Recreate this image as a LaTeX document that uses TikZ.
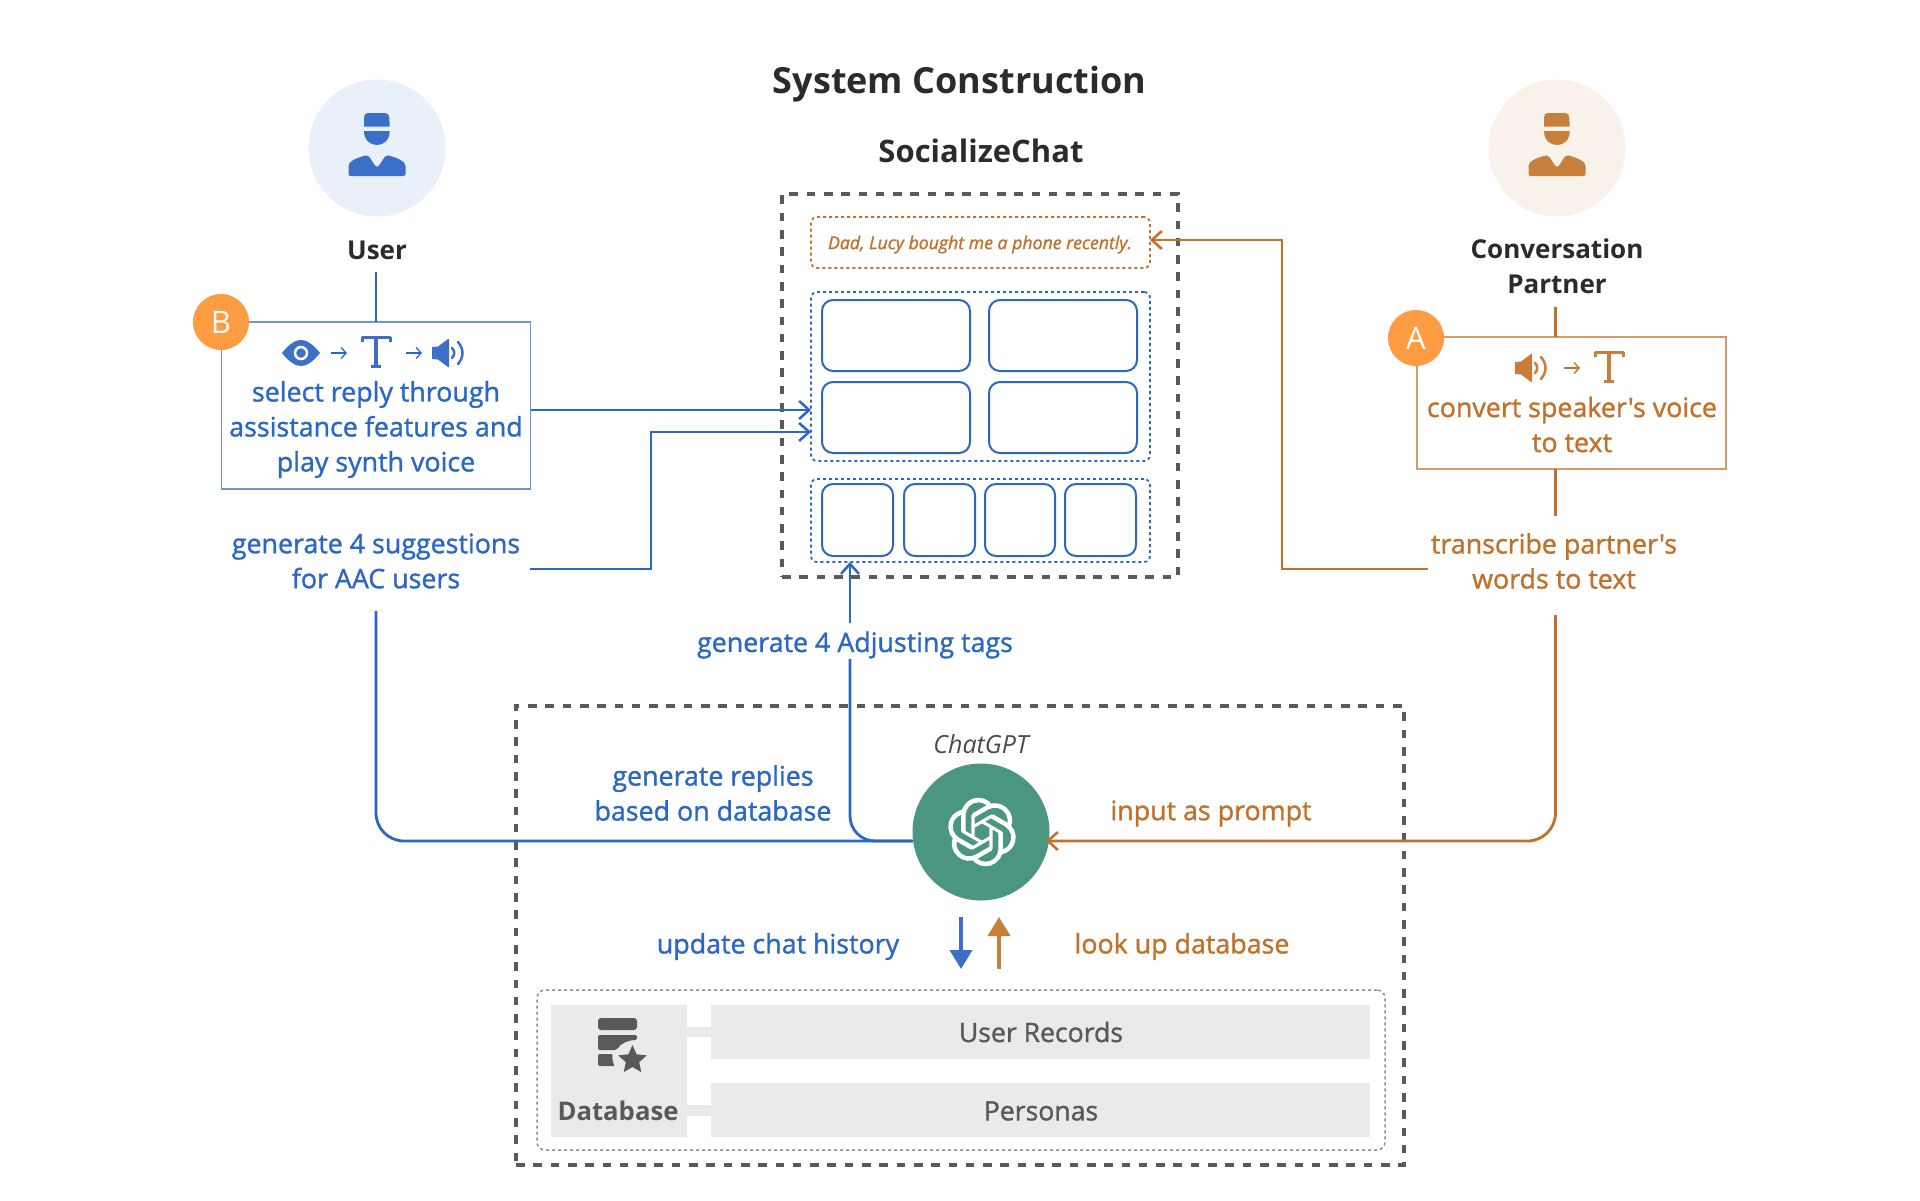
\documentclass[tikz,border=0pt]{standalone}
\usepackage{fontspec}
\setmainfont{Open Sans}[Ligatures=TeXOff]
\newfontfamily\medf{Open Sans}[Ligatures=TeXOff,FakeBold=1.2]
\usetikzlibrary{arrows.meta,svg.path}
\definecolor{bluel}{HTML}{2A67C6}
\definecolor{bluei}{HTML}{3B70C8}
\definecolor{blueb}{HTML}{6C93D8}
\definecolor{bluebg}{HTML}{EAF0F9}
\definecolor{orl}{HTML}{C2702A}
\definecolor{ori}{HTML}{C67F3C}
\definecolor{orb}{HTML}{D59A66}
\definecolor{orbg}{HTML}{F8F2EB}
\definecolor{badge}{HTML}{FD9C43}
\definecolor{gptgreen}{HTML}{4B9681}
\definecolor{dashgray}{HTML}{5A5A5A}
\definecolor{dbgray}{HTML}{EAEAEA}
\definecolor{dbtext}{HTML}{595959}
\definecolor{titlec}{HTML}{2B2B2B}
\tikzset{
  x=1pt,y=-1pt,
  every node/.style={inner sep=0pt,outer sep=0pt,align=center},
  lab/.style={font=\fontsize{26.8}{35}\medf,anchor=center},
  bluetxt/.style={lab,text=bluel},
  ortxt/.style={lab,text=orl},
  head/.style={lab,font=\fontsize{26}{35}\selectfont\bfseries,text=titlec},
  bluewire/.style={draw=bluel,line width=2.8pt},
  orwire/.style={draw=orl,line width=2.8pt},
  barb/.style={-{Straight Barb[length=10pt,width=18pt,line width=2.5pt]}},
  outerdash/.style={draw=dashgray,line width=3.5pt,dash pattern=on 8.6pt off 8.7pt},
  dotbox/.style={rounded corners=6pt,line width=1.8pt,dash pattern=on 3pt off 3pt},
  card/.style={draw=bluel,line width=2pt,rounded corners=11pt},
  bluebox/.style={draw=blueb,line width=1.5pt},
  orbox/.style={draw=orb,line width=1.5pt},
  badgec/.style={circle,fill=badge,minimum size=56pt,text=white,font=\fontsize{31}{31}\selectfont},
  small/.style={line width=1.3pt,-{Straight Barb[length=5pt,width=11pt,line width=1.3pt]}},
  dbbar/.style={fill=dbgray,draw=none},
  dbtxtst/.style={text=dbtext,font=\fontsize{26.6}{27}\medf},
}
\newcommand{\personicon}[3]{%
 \begin{scope}[shift={(#1,#2)}]
  \fill[#3] (-9,-35) .. controls (-12,-35) and (-13,-33) .. (-13,-30) -- (-13,-21.5) -- (12.7,-21.5) -- (12.3,-30) .. controls (12.3,-33) and (11,-35) .. (8,-35) -- cycle;
  \fill[#3] (-13,-17) -- (12.7,-17) .. controls (12.7,-8) and (7,-3) .. (0,-3) .. controls (-7,-3) and (-13,-8) .. (-13,-17) -- cycle;
  \fill[#3,rounded corners=2pt] (-28.5,28) -- (-28.5,20) .. controls (-28.5,14) and (-22,10) .. (-9,7) -- (-3,16) .. controls (-1,19) and (1,19) .. (3,16) -- (9,7) .. controls (22,10) and (28.5,14) .. (28.5,20) -- (28.5,28) -- cycle;
 \end{scope}}
\newcommand{\speakericon}[3]{%
 \begin{scope}[shift={(#1,#2)}]
  \fill[#3] (0,-6) -- (6,-6.5) -- (16,-14) -- (17,-14) -- (17,14) -- (16,14) -- (6,6.5) -- (0,6) -- cycle;
  \draw[#3,line width=2.5pt,line cap=round] (20,-5) .. controls (23,-2) and (23,2) .. (20,5);
  \draw[#3,line width=2.5pt,line cap=round] (26,-11) .. controls (32,-4) and (32,4) .. (26,11);
 \end{scope}}
\newcommand{\ticon}[3]{%
 \begin{scope}[shift={(#1,#2)}]
  \draw[#3,line width=3pt,line join=round] (-14,-10) -- (-14,-15) -- (14,-15) -- (14,-10);
  \draw[#3,line width=3.6pt] (0,-15) -- (0,14);
  \draw[#3,line width=3pt] (-5,14.5) -- (5,14.5);
 \end{scope}}
\begin{document}
\begin{tikzpicture}
\useasboundingbox (0,0) rectangle (1920,1200);
\fill[white] (0,0) rectangle (1920,1200);
% titles
\node[font=\fontsize{36}{36}\selectfont\bfseries,text=titlec] (title) at (959.5,84) {System Construction};
\node[font=\fontsize{31}{31}\selectfont\bfseries,text=titlec] (sctitle) at (981,151) {SocializeChat};
% dashed frames
\node[outerdash,minimum width=396pt,minimum height=383pt] (scframe) at (980,385.5) {};
\node[outerdash,minimum width=888pt,minimum height=459pt] (gptframe) at (960,935.5) {};
% chat ui
\node[draw=orl,dotbox,minimum width=339pt,minimum height=51pt] (said) at (980.5,242.5) {};
\node[text=orl,font=\fontsize{17.7}{18}\medf\itshape] (saidtxt) at (980,244.5) {Dad, Lucy bought me a phone recently.};
\node[draw=bluel,dotbox,minimum width=339pt,minimum height=169pt] (replies) at (980.5,376.5) {};
\node[draw=bluel,dotbox,minimum width=339pt,minimum height=83pt] (tags) at (980.5,520.5) {};
\node[card,minimum width=148pt,minimum height=71pt] (r1) at (896,335.5) {};
\node[card,minimum width=148pt,minimum height=71pt] (r2) at (1063,335.5) {};
\node[card,minimum width=148pt,minimum height=71pt] (r3) at (896,417.5) {};
\node[card,minimum width=148pt,minimum height=71pt] (r4) at (1063,417.5) {};
\node[card,minimum width=71pt,minimum height=72pt] (t1) at (857.5,520) {};
\node[card,minimum width=71pt,minimum height=72pt] (t2) at (939.5,520) {};
\node[card,minimum width=70pt,minimum height=72pt] (t3) at (1020,520) {};
\node[card,minimum width=71pt,minimum height=72pt] (t4) at (1100.5,520) {};
% user
\node[circle,fill=bluebg,minimum size=137pt] (ucirc) at (377,148) {};
\personicon{377}{148}{bluei}
\node[head] (ulabel) at (377,250) {User};
\node[bluebox,minimum width=309pt,minimum height=167pt] (ubox) at (376,405.5) {};
\coordinate (ustart) at (376,272);
\coordinate (utop) at (376,322);
\draw[bluewire] (ustart) -- (utop);
\node[badgec] (bbadge) at (221,322) {B};
% icons user
\fill[bluei] (282,353) .. controls (290,343) and (296,340) .. (301,340) .. controls (306,340) and (312,343) .. (320,353) .. controls (312,363) and (306,366) .. (301,366) .. controls (296,366) and (290,363) .. (282,353) -- cycle;
\draw[white,line width=2.5pt] (301,353) circle[radius=6];
\coordinate (ua1) at (331,353); \coordinate (ua2) at (347,353);
\draw[small,bluel] (ua1) -- (ua2);
\ticon{376}{352}{bluei}
\coordinate (ua3) at (406,353); \coordinate (ua4) at (422,353);
\draw[small,bluel] (ua3) -- (ua4);
\speakericon{432}{353}{bluei}
\node[bluetxt] (utxt) at (376,429.5) {select reply through\\assistance features and\\play synth voice};
\node[bluetxt] (usugg) at (376,561) {generate 4 suggestions\\for AAC users};
% partner
\node[circle,fill=orbg,minimum size=137pt] (pcirc) at (1557,148) {};
\personicon{1557}{148}{ori}
\node[head] (plabel) at (1557,266.5) {Conversation\\Partner};
\node[orbox,minimum width=309pt,minimum height=132pt] (pbox) at (1571.5,403) {};
\coordinate (pstart) at (1555.5,307);
\coordinate (ptop) at (1555.5,337);
\draw[orwire] (pstart) -- (ptop);
\node[badgec] (abadge) at (1416,338) {A};
\speakericon{1515}{368}{ori}
\coordinate (pa1) at (1564,368); \coordinate (pa2) at (1580,368);
\draw[small,orl] (pa1) -- (pa2);
\ticon{1609}{367}{ori}
\node[ortxt] (ptxt) at (1572,424.5) {convert speaker's voice\\to text};
\coordinate (pb1) at (1555.5,469); \coordinate (pb2) at (1555.5,516);
\draw[orwire] (pb1) -- (pb2);
\node[ortxt] (ptrans) at (1554,561) {transcribe partner's\\words to text};
% gpt
\node[circle,fill=gptgreen,minimum size=137pt] (gpt) at (981,832) {};
\node[font=\fontsize{25}{25}\selectfont\itshape,text=titlec!85] (gptlabel) at (981,744) {ChatGPT};
\begin{scope}[shift={(947.8,797.8)},xscale=2.85,yscale=-2.85]
\fill[white,even odd rule] svg {M 22.2819 9.8211 a 5.9847 5.9847 0 0 0 -0.5157 -4.9108 a 6.0462 6.0462 0 0 0 -6.5098 -2.9 A 6.0651 6.0651 0 0 0 4.9807 4.1818 a 5.9847 5.9847 0 0 0 -3.9977 2.9 a 6.0462 6.0462 0 0 0 0.7427 7.0966 a 5.98 5.98 0 0 0 0.511 4.9107 a 6.051 6.051 0 0 0 6.5146 2.9001 A 5.9847 5.9847 0 0 0 13.2599 24 a 6.0557 6.0557 0 0 0 5.7718 -4.2058 a 5.9894 5.9894 0 0 0 3.9977 -2.9001 a 6.0557 6.0557 0 0 0 -0.7475 -7.0729 z
M 13.2599 22.4292 a 4.4755 4.4755 0 0 1 -2.8764 -1.0408 l 0.1419 -0.0804 l 4.7783 -2.7582 a 0.7948 0.7948 0 0 0 0.3927 -0.6813 v -6.7369 l 2.02 1.1686 l 0.038 0.052 v 5.5826 a 4.504 4.504 0 0 1 -4.4945 4.4944 z
M 3.5992 18.3038 a 4.4708 4.4708 0 0 1 -0.5346 -3.0137 l 0.142 0.0852 l 4.783 2.7582 a 0.7712 0.7712 0 0 0 0.7806 0 l 5.8428 -3.3685 v 2.3324 l -0.0332 0.0615 L 9.74 19.9502 a 4.4992 4.4992 0 0 1 -6.1408 -1.6464 z
M 2.3408 7.8956 a 4.485 4.485 0 0 1 2.3655 -1.9728 V 11.6 a 0.7664 0.7664 0 0 0 0.3879 0.6765 l 5.8144 3.3543 l -2.0201 1.1685 l -0.071 0 l -4.8303 -2.7865 A 4.504 4.504 0 0 1 2.3408 7.872 z
M 18.9371 11.7514 L 13.1038 8.364 L 15.1192 7.2 l 0.071 0 l 4.8303 2.7913 a 4.4944 4.4944 0 0 1 -0.6765 8.1042 v -5.6772 a 0.79 0.79 0 0 0 -0.407 -0.667 z
M 20.9478 8.7283 l -0.142 -0.0852 l -4.7735 -2.7818 a 0.7759 0.7759 0 0 0 -0.7854 0 L 9.409 9.2297 V 6.8974 l 0.0284 -0.0615 l 4.8303 -2.7866 a 4.4992 4.4992 0 0 1 6.6802 4.66 z
M 8.3065 12.863 l -2.02 -1.1638 l -0.038 -0.0567 V 6.0742 a 4.4992 4.4992 0 0 1 7.3757 -3.4537 l -0.142 0.0805 L 8.704 5.459 a 0.7948 0.7948 0 0 0 -0.3927 0.6813 z
M 9.4041 10.4976 l 2.602 -1.4998 l 2.6069 1.4998 v 2.9994 l -2.5974 1.4997 l -2.6067 -1.4997 z};
\end{scope}
% labels
\node[bluetxt] (tagtxt) at (855,645) {generate 4 Adjusting tags};
\node[bluetxt] (reptxt) at (713,793) {generate replies\\based on database};
\node[ortxt] (prompttxt) at (1211,813.5) {input as prompt};
\node[bluetxt] (histtxt) at (778,946.5) {update chat history};
\node[ortxt] (looktxt) at (1182,946.5) {look up database};
% connectors
\draw[bluewire,barb] (ubox.east |- 0,410) -- (replies.west |- 0,410);
\coordinate (sbend) at (651,569);
\coordinate (sstart) at (530,569);
\draw[bluewire,barb] (sstart) -- (sbend) -- (651,432) -- (replies.west |- 0,432);
\coordinate (ostart) at (1428,569);
\draw[orwire,barb] (ostart) -- (1282,569) -- (1282,240) -- (said.east |- 0,240);
\coordinate (pdown) at (1555.5,615);
\coordinate (gptin) at (1046,841);
\draw[orwire,barb,rounded corners=28pt] (pdown) -- (1555.5,841) -- (gptin);
\coordinate (udown) at (376,611);
\draw[bluewire,rounded corners=28pt] (udown) -- (376,841) -- (gpt.west |- 0,841);
\coordinate (tagm) at (850,659);
\draw[bluewire,rounded corners=25pt] (gpt.west |- 0,841) -- (850,841) -- (tagm);
\coordinate (tagn) at (850,623);
\draw[bluewire,barb] (tagn) -- (tags.south -| 850,0);
% db arrows
\coordinate (d1) at (961,917); \coordinate (d2) at (961,969);
\draw[draw=bluei,line width=4pt,-{Triangle[length=19pt,width=22pt]}] (d1) -- (d2);
\coordinate (u1) at (999,969); \coordinate (u2) at (999,917);
\draw[draw=ori,line width=4pt,-{Triangle[length=19pt,width=22pt]}] (u1) -- (u2);
% database
\node[draw=dashgray!70,rounded corners=8pt,line width=1.5pt,dash pattern=on 3pt off 3pt,minimum width=848pt,minimum height=160pt] (dbframe) at (961,1070) {};
\node[dbbar,minimum width=136pt,minimum height=132pt] (dbblock) at (619,1071) {};
\node[dbbar,minimum width=659pt,minimum height=54pt] (recs) at (1040.5,1032) {};
\node[dbbar,minimum width=659pt,minimum height=54pt] (pers) at (1040.5,1110) {};
\node[dbtxtst] (recstxt) at (1041,1032) {User Records};
\node[dbtxtst] (perstxt) at (1041,1111) {Personas};
\fill[dbgray] (687,1027) rectangle (711,1037);
\fill[dbgray] (687,1105) rectangle (711,1116);
\node[font=\fontsize{25.7}{27}\selectfont\bfseries,text=dbtext] (dbtxt) at (618,1111) {Database};
% db icon
\fill[dbtext,rounded corners=3pt] (598,1018) rectangle (637,1030);
\fill[dbtext,rounded corners=2pt] (598,1035) -- (637,1035) -- (637,1040) .. controls (628,1040) and (620,1044) .. (617,1050) -- (598,1050) -- cycle;
\fill[dbtext,rounded corners=2pt] (598,1054) -- (613,1054) .. controls (612,1058) and (613,1063) .. (615,1066) -- (598,1066) -- cycle;
\fill[dbtext] (632.5,1045)
  \foreach \k in {1,...,4}{ -- ({632.5+7*sin(\k*72-36)},{1060-7*cos(\k*72-36)}) -- ({632.5+15*sin(\k*72)},{1060-15*cos(\k*72)}) }
  -- ({632.5+7*sin(324)},{1060-7*cos(324)}) -- cycle;
\end{tikzpicture}
\end{document}
